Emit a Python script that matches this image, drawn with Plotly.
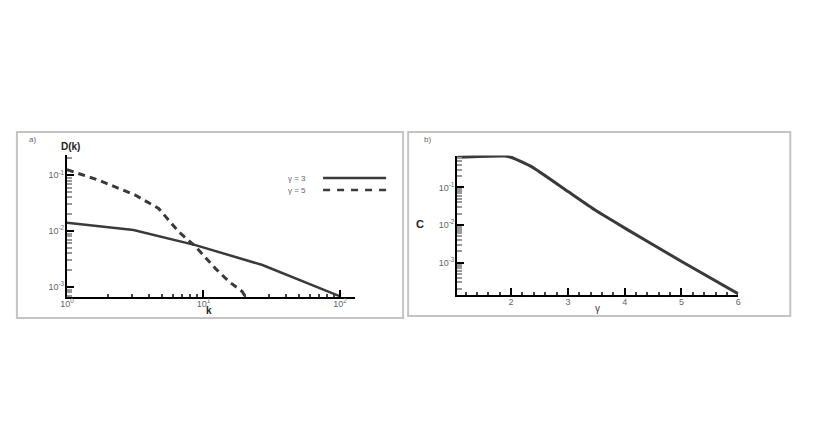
import plotly.graph_objects as go

# page body has an 8px default margin; keep the figure inside the window
OX, OY = 8, 8
W, H = 801, 420

# ---- data ----
k_g3 = [1.0, 3.07, 8.73, 27.0, 100.0]
D_g3 = [0.0140, 0.0104, 0.0056, 0.00247, 0.00068]
k_g5 = [1.0, 1.70, 3.16, 4.69, 6.58, 8.73, 12.2, 15.4, 19.2, 20.3]
D_g5 = [0.125, 0.0815, 0.044, 0.0254, 0.0097, 0.0053, 0.00215, 0.00124, 0.00083, 0.00066]
gamma = [1.05, 1.894, 2.01, 2.365, 3.01, 3.48, 4.01, 5.01, 6.0]
C_vals = [0.64, 0.685, 0.625, 0.352, 0.0764, 0.025, 0.00816, 0.00106, 0.000148]

legend_labels = ["γ = 3", "γ = 5"]
a_xticks = [1, 10, 100]
a_xticktext = ["10<sup>0</sup>", "10<sup>1</sup>", "10<sup>2</sup>"]
a_yticks = [0.1, 0.01, 0.001]
a_yticktext = ["10<sup>-1</sup>", "10<sup>-2</sup>", "10<sup>-3</sup>"]
b_xticks = [2, 3, 4, 5, 6]
b_yticks = [0.1, 0.01, 0.001]
b_yticktext = ["10<sup>-1</sup>", "10<sup>-2</sup>", "10<sup>-3</sup>"]


def px(x):
    x = (x - 7.2) / 0.987
    return (x - OX) / W


def py(y):
    return 1 - (y - OY) / H


def log_minor(lo_exp, hi_exp):
    vals = []
    for e in range(lo_exp, hi_exp + 1):
        for m in range(2, 10):
            vals.append(m * 10 ** e)
    return vals


LINE = "#3a3a3a"
TICKFONT = dict(family="Liberation Sans, Arial", size=9, color="#666")

fig = go.Figure()
fig.add_trace(go.Scatter(x=k_g3, y=D_g3, mode="lines", line=dict(color=LINE, width=2.5),
                         xaxis="x", yaxis="y", showlegend=False))
fig.add_trace(go.Scatter(x=k_g5, y=D_g5, mode="lines", line=dict(color=LINE, width=3, dash="7px,5px"),
                         xaxis="x", yaxis="y", showlegend=False))
fig.add_trace(go.Scatter(x=gamma, y=C_vals, mode="lines", line=dict(color=LINE, width=3, shape="spline", smoothing=0.5),
                         xaxis="x2", yaxis="y2", showlegend=False))

axis_common = dict(showline=True, linecolor="black", linewidth=2, showgrid=False, zeroline=False,
                   ticks="inside", tickcolor="black", tickwidth=1.5, ticklen=7, tickfont=TICKFONT)
xstand = dict(ticklabelstandoff=-3)
ystand = dict(ticklabelstandoff=-1)

fig.update_layout(
    width=W, height=H, margin=dict(l=0, r=0, t=0, b=0),
    paper_bgcolor="white", plot_bgcolor="white",
    xaxis=dict(axis_common, **xstand, type="log", range=[0, 2.11], domain=[px(67), px(355)],
               tickvals=a_xticks, ticktext=a_xticktext, anchor="y",
               minor=dict(ticks="inside", ticklen=3, tickcolor="#444", tickvals=log_minor(0, 1))),
    yaxis=dict(axis_common, **ystand, type="log", range=[-3.18, -0.64], domain=[py(297), py(155)],
               tickvals=a_yticks, ticktext=a_yticktext, anchor="x",
               minor=dict(ticks="inside", ticklen=5, tickcolor="#999", tickvals=log_minor(-4, -1))),
    xaxis2=dict(axis_common, **xstand, type="linear", range=[1.05, 6.0], domain=[px(457), px(738)],
                tickvals=b_xticks, anchor="y2",
                minor=dict(ticks="inside", ticklen=3, tickcolor="#444", dtick=0.2, tick0=0)),
    yaxis2=dict(axis_common, **ystand, type="log", range=[-3.86, -0.15], domain=[py(295), py(155.5)],
                tickvals=b_yticks, ticktext=b_yticktext, anchor="x2",
                minor=dict(ticks="inside", ticklen=5, tickcolor="#999", tickvals=log_minor(-4, -1))),
)

shapes = [
    dict(type="rect", xref="paper", yref="paper", x0=px(17), x1=px(403), y0=py(318), y1=py(132),
         line=dict(color="#c4c4c4", width=2)),
    dict(type="rect", xref="paper", yref="paper", x0=px(408), x1=px(790), y0=py(316), y1=py(132),
         line=dict(color="#c4c4c4", width=2)),
    dict(type="line", xref="paper", yref="paper", x0=px(323), x1=px(386), y0=py(178), y1=py(178),
         line=dict(color=LINE, width=2.5)),
    dict(type="line", xref="paper", yref="paper", x0=px(323), x1=px(386), y0=py(190), y1=py(190),
         line=dict(color=LINE, width=2.5, dash="7px,7px")),
]
fig.update_layout(shapes=shapes)


def ann(text, x, y, size, bold=False, color="#333"):
    t = f"<b>{text}</b>" if bold else text
    return dict(text=t, x=px(x), y=py(y), xref="paper", yref="paper", showarrow=False,
                xanchor="center", yanchor="middle",
                font=dict(family="Liberation Sans, Arial", size=size, color=color))


annotations = [
    ann("a)", 33, 139, 8, color="#666"),
    ann("b)", 427, 139, 8, color="#666"),
    ann("D(k)", 71, 147, 10, bold=True, color="#222"),
    ann("k", 209, 310, 10, bold=True, color="#222"),
    ann("C", 420, 224, 11, bold=True, color="#222"),
    ann("γ", 597, 308, 10, color="#444"),
    ann(legend_labels[0], 297, 178, 8, color="#666"),
    ann(legend_labels[1], 297, 190, 8, color="#666"),
]
fig.update_layout(annotations=annotations)

fig.write_html("out.html")
